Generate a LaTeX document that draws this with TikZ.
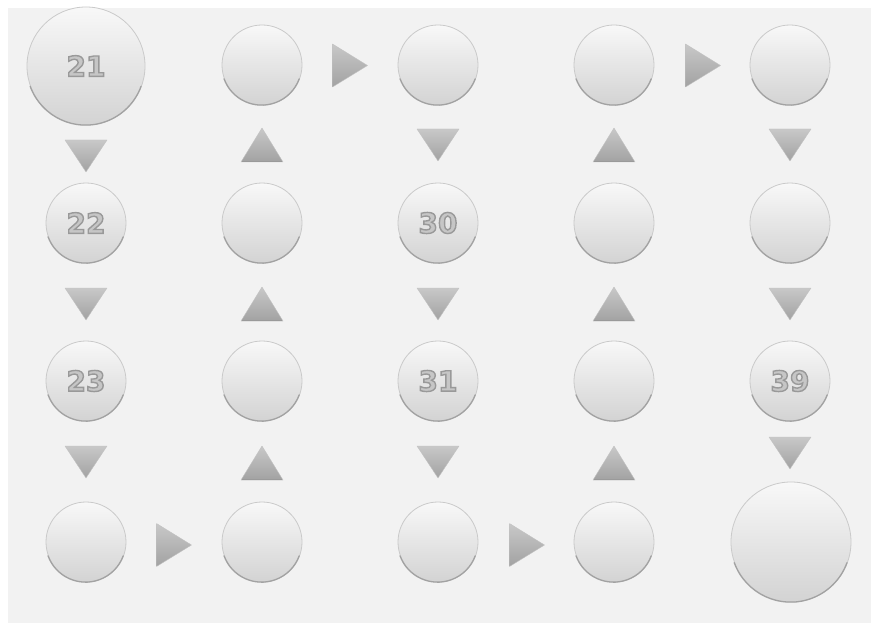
\documentclass[tikz,border=0pt]{standalone}
\usepackage{fontspec}
\newfontfamily\numfont{DejaVu Sans}
\definecolor{bg}{HTML}{F2F2F2}
\definecolor{balltop}{HTML}{F8F8F8}
\definecolor{ballbot}{HTML}{D3D3D3}
\definecolor{ballrim}{HTML}{CACACA}
\definecolor{ballshadow}{HTML}{A2A2A2}
\definecolor{tritop}{HTML}{C8C8C8}
\definecolor{tribot}{HTML}{A2A2A2}
\definecolor{triedge}{HTML}{9A9A9A}
\definecolor{numlight}{HTML}{C6C6C6}
\newcommand\embossed[1]{\special{pdf:literal direct 0.6 G 1.4 w 2 Tr}#1\special{pdf:literal direct 0 Tr}}
\tikzset{
  ball/.style={circle, inner sep=0pt, minimum size=#1, shading=axis,
    top color=balltop, bottom color=ballbot, draw=ballrim, line width=0.8pt},
  tri/.style={top color=tritop, bottom color=tribot, draw=triedge!60, line width=0.4pt, line join=round},
  numl/.style={text=numlight, inner sep=0pt, font=\numfont\bfseries\fontsize{28}{28}\selectfont},
}
\newcommand\myball[4]{%
  \node[ball=#4*2pt] (#1) at (#2,#3) {};
  \draw[ballshadow, line width=1.3pt, line cap=round] (#1.200) arc[start angle=200, end angle=340, radius=#4pt];
}
\newcommand\mynum[2]{%
  \node[numl] (t#1) at (#1) {\embossed{#2}};
}
\newcommand\tdown[1]{\shade[tri] ([shift={(-21,16)}]#1) -- ([shift={(21,16)}]#1) -- ([shift={(0,-16)}]#1) -- cycle;}
\newcommand\tup[1]{\shade[tri] ([shift={(-21,-17)}]#1) -- ([shift={(21,-17)}]#1) -- ([shift={(0,17)}]#1) -- cycle;
  \draw[triedge, line width=1.2pt] ([shift={(-20,-16.5)}]#1) -- ([shift={(20,-16.5)}]#1);}
\newcommand\tright[1]{\shade[tri] ([shift={(-17.5,21.5)}]#1) -- ([shift={(-17.5,-21.5)}]#1) -- ([shift={(17.5,0)}]#1) -- cycle;}
\begin{document}
\begin{tikzpicture}[x=1pt,y=1pt]
\useasboundingbox (0,0) rectangle (871,-623);
\fill[white] (0,0) rectangle (871,-623);
\fill[bg] (8,-8) rectangle (871,-623);
% column x: 86 262 438 614 790 ; row y: 65 223 381 542
\myball{b21}{86}{-66}{59}
\myball{b22}{86}{-223}{40}
\myball{b23}{86}{-381}{40}
\myball{b24}{86}{-542}{40}
\myball{b25}{262}{-542}{40}
\myball{b26}{262}{-381}{40}
\myball{b27}{262}{-223}{40}
\myball{b28}{262}{-65}{40}
\myball{b29}{438}{-65}{40}
\myball{b30}{438}{-223}{40}
\myball{b31}{438}{-381}{40}
\myball{b32}{438}{-542}{40}
\myball{b33}{614}{-542}{40}
\myball{b34}{614}{-381}{40}
\myball{b35}{614}{-223}{40}
\myball{b36}{614}{-65}{40}
\myball{b37}{790}{-65}{40}
\myball{b38}{790}{-223}{40}
\myball{b39}{790}{-381}{40}
\myball{b40}{791}{-542}{60}
\mynum{b21}{21}
\mynum{b22}{22}
\mynum{b23}{23}
\mynum{b30}{30}
\mynum{b31}{31}
\mynum{b39}{39}
% connector markers
\coordinate (c1a) at (86,-156);
\coordinate (c1b) at (86,-304);
\coordinate (c1c) at (86,-462);
\coordinate (h1) at (174,-545);
\coordinate (c2c) at (262,-463);
\coordinate (c2b) at (262,-304);
\coordinate (c2a) at (262,-145);
\coordinate (h2) at (350,-65.5);
\coordinate (c3a) at (438,-145);
\coordinate (c3b) at (438,-304);
\coordinate (c3c) at (438,-462);
\coordinate (h3) at (527,-545);
\coordinate (c4c) at (614,-463);
\coordinate (c4b) at (614,-304);
\coordinate (c4a) at (614,-145);
\coordinate (h4) at (703,-65.5);
\coordinate (c5a) at (790,-145);
\coordinate (c5b) at (790,-304);
\coordinate (c5c) at (790,-453);
\tdown{c1a} \tdown{c1b} \tdown{c1c}
\tup{c2a} \tup{c2b} \tup{c2c}
\tdown{c3a} \tdown{c3b} \tdown{c3c}
\tup{c4a} \tup{c4b} \tup{c4c}
\tdown{c5a} \tdown{c5b} \tdown{c5c}
\tright{h1} \tright{h2} \tright{h3} \tright{h4}
\end{tikzpicture}
\end{document}
